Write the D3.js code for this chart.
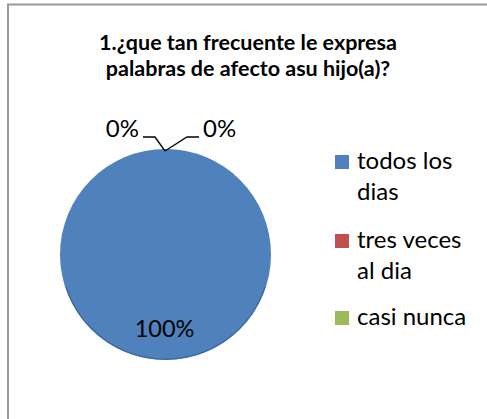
<html><head><meta charset="UTF-8">
<style>
  body, html { margin: 0; padding: 0; background: #fff; overflow: hidden; }
  svg { display: block; font-family: Lato, 'Open Sans', sans-serif; }
</style>
</head>
<body>
<div id="chart"></div>
<script src="https://cdn.jsdelivr.net/npm/d3@7"></script>
<script>
const width = 487;
const height = 419;

const titleLines = ["1.¿que tan frecuente le expresa", "palabras de afecto asu hijo(a)?"];
const categories = ["todos los dias", "tres veces al dia", "casi nunca"];
const legendLines = [["todos los", "dias"], ["tres veces", "al dia"], ["casi nunca"]];
const values = [100, 0, 0];
const colors = ["#4f81bd", "#c0504d", "#9bbb59"];

const svg = d3.select("#chart").append("svg")
  .attr("width", width)
  .attr("height", height);

// chart frame (runs off the right and bottom edges)
svg.append("rect")
  .attr("x", 8).attr("y", 4.5)
  .attr("width", 520).attr("height", 440)
  .attr("fill", "#fff")
  .attr("stroke", "#9a9a9a")
  .attr("stroke-width", 2);

// title
svg.append("text")
  .attr("text-anchor", "middle")
  .attr("font-weight", "bold")
  .attr("font-size", 21.5)
  .attr("fill", "#000")
  .selectAll("tspan")
  .data(titleLines)
  .enter().append("tspan")
  .attr("x", 248)
  .attr("y", (d, i) => 50 + i * 26)
  .text(d => d);

const cx = 165.5, cy = 254.5, r = 105.5;
const total = d3.sum(values);

const pie = d3.pie().sort(null).value(d => d)(values);
const arc = d3.arc().innerRadius(0).outerRadius(r);
const labelArc = d3.arc().innerRadius(r * 0.71).outerRadius(r * 0.71);

const g = svg.append("g").attr("transform", `translate(${cx},${cy})`);

g.selectAll("path.slice")
  .data(pie)
  .enter().append("path")
  .attr("class", "slice")
  .attr("d", arc)
  .attr("fill", (d, i) => colors[i]);

// soft dark rim on the lower edge
g.append("path")
  .attr("d", d3.arc().innerRadius(r - 1.5).outerRadius(r).startAngle(Math.PI * 0.6).endAngle(Math.PI * 1.4)())
  .attr("fill", "#2f5480")
  .attr("opacity", 0.55);

const fmt = v => Math.round(v / total * 100) + "%";

// labels inside non-zero slices
g.selectAll("text.inside")
  .data(pie.filter(d => d.value > 0))
  .enter().append("text")
  .attr("class", "inside")
  .attr("x", d => labelArc.centroid(d)[0] - 1)
  .attr("y", d => labelArc.centroid(d)[1] + 8)
  .attr("text-anchor", "middle")
  .attr("font-size", 23.5)
  .attr("fill", "#000")
  .text(d => fmt(d.value));

// zero slices: leader lines out of the top
const zeros = pie.filter(d => d.value === 0);
zeros.forEach((d, k) => {
  const a = (d.startAngle + d.endAngle) / 2;
  const px = Math.sin(a) * r - 0.5;
  const py = -Math.cos(a) * r + 2;
  const side = k === 0 ? -1 : 1;
  const ex = px + side * (k === 0 ? 10 : 22);
  const ey = py - 14;
  const hx = ex + side * 12;
  g.append("polyline")
    .attr("points", [[px, py], [ex, ey], [hx, ey]].map(p => p.join(",")).join(" "))
    .attr("fill", "none")
    .attr("stroke", "#000")
    .attr("stroke-width", 1.3);
  g.append("text")
    .attr("x", hx + side * 4)
    .attr("y", ey)
    .attr("text-anchor", side < 0 ? "end" : "start")
    .attr("font-size", 24)
    .attr("fill", "#000")
    .text(fmt(d.value));
});

// legend
const legendTop = [169, 248, 325];
const leg = svg.append("g");
categories.forEach((c, i) => {
  leg.append("rect")
    .attr("x", 335).attr("y", legendTop[i] - 14)
    .attr("width", 14).attr("height", 14)
    .attr("fill", colors[i]);
  const t = leg.append("text")
    .attr("font-size", 24)
    .attr("fill", "#000");
  legendLines[i].forEach((line, j) => {
    t.append("tspan")
      .attr("x", 357)
      .attr("y", legendTop[i] + j * 31)
      .text(line);
  });
});
</script>
</body></html>
